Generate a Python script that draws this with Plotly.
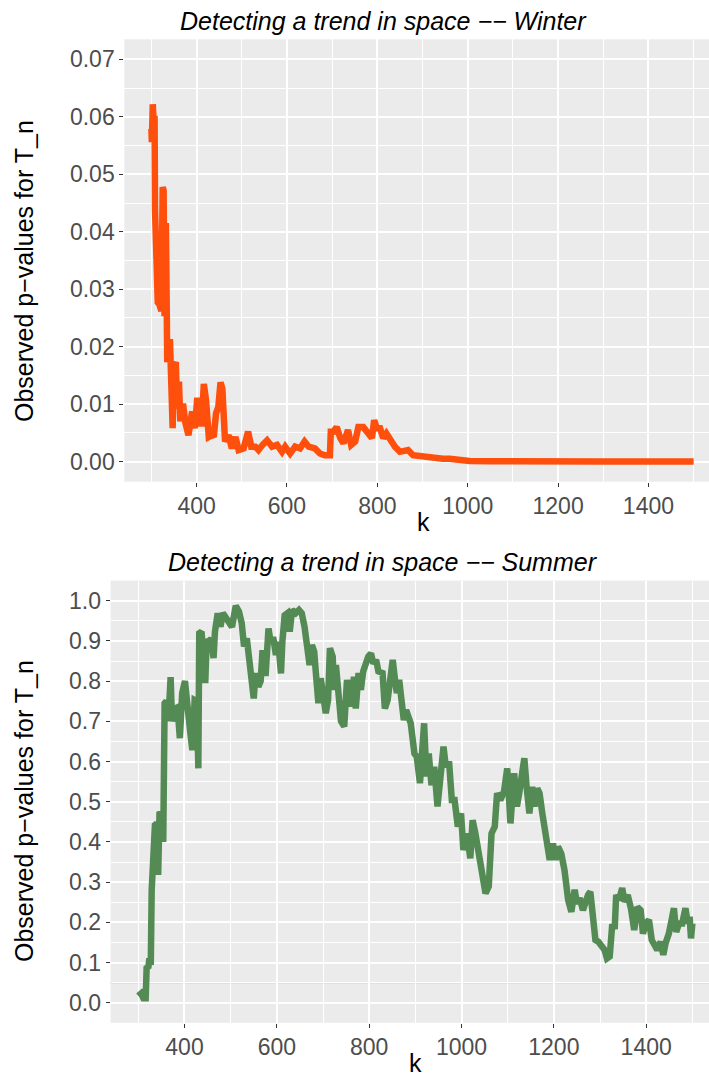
import plotly.graph_objects as go

# ---- data: observed p-values of T_n against k ----
winter_k = [300, 301, 303, 305, 307, 308, 311, 314, 318, 322, 325, 327, 329, 332, 334, 335,
            341, 345, 347, 350, 354, 357, 361, 364, 370, 375, 382, 390, 396, 401, 406, 411,
            416, 421, 427, 434, 438, 443, 448, 453, 457, 463, 471, 478, 486, 493, 504, 514,
            521, 530, 537, 547, 556, 567, 578, 589, 596, 607, 618, 629, 639, 648, 662, 673,
            684, 695, 697, 703, 710, 718, 725, 735, 742, 751, 758, 769, 780, 788, 793, 799,
            806, 813, 820, 828, 839, 850, 860, 868, 879, 890, 901, 915, 931, 945, 960, 982,
            1004, 1050, 1100, 1200, 1300, 1400, 1500]
winter_p = [0.0579, 0.0556, 0.0622, 0.0590, 0.0602, 0.0438, 0.0323, 0.0277, 0.0273, 0.0262,
            0.0478, 0.0472, 0.0253, 0.0415, 0.0260, 0.0173, 0.0213, 0.0061, 0.0058, 0.0167,
            0.0173, 0.0092, 0.0139, 0.0070, 0.0101, 0.0068, 0.0046, 0.0087, 0.0058, 0.0106,
            0.0106, 0.0061, 0.0135, 0.0106, 0.0043, 0.0046, 0.0043, 0.0084, 0.0095, 0.0138,
            0.0127, 0.0035, 0.0046, 0.0023, 0.0043, 0.0020, 0.0023, 0.0052, 0.0026, 0.0026,
            0.0020, 0.0030, 0.0037, 0.0026, 0.0029, 0.0017, 0.0026, 0.0014, 0.0026, 0.0023,
            0.0035, 0.0026, 0.0023, 0.0014, 0.0011, 0.0011, 0.0052, 0.0052, 0.0060, 0.0041,
            0.0032, 0.0055, 0.0029, 0.0035, 0.0060, 0.0060, 0.0049, 0.0041, 0.0072, 0.0058,
            0.0058, 0.0041, 0.0049, 0.0037, 0.0026, 0.0017, 0.0018, 0.0020, 0.0011, 0.0010,
            0.0008, 0.0006, 0.0005, 0.0005, 0.0005, 0.0003, 0.0001, 0.00005, 0.0, 0.0, 0.0,
            0.0, 0.0]

summer_k = [300, 306, 311, 316, 318, 322, 324, 327, 329, 333, 336, 340, 343, 346, 350, 354,
            357, 361, 365, 370, 373, 379, 385, 390, 395, 401, 406, 412, 417, 422, 427, 430,
            432, 437, 445, 448, 453, 458, 463, 466, 472, 478, 483, 489, 496, 503, 511, 518,
            524, 529, 535, 540, 546, 550, 554, 560, 565, 569, 573, 576, 582, 587, 592, 598,
            603, 609, 612, 617, 623, 628, 633, 641, 648, 654, 660, 666, 671, 676, 681, 684,
            690, 695, 700, 706, 711, 715, 721, 724, 728, 733, 739, 746, 752, 757, 762, 767,
            771, 777, 782, 787, 793, 798, 804, 809, 815, 820, 829, 834, 840, 845, 851, 856,
            860, 865, 871, 875, 880, 886, 890, 898, 903, 910, 915, 919, 924, 929, 935, 941,
            948, 955, 961, 966, 973, 979, 985, 992, 999, 1004, 1012, 1019, 1024, 1030, 1037,
            1044, 1052, 1059, 1065, 1072, 1077, 1084, 1092, 1099, 1103, 1106, 1114, 1120,
            1125, 1131, 1136, 1141, 1147, 1153, 1158, 1164, 1169, 1175, 1180, 1185, 1191,
            1198, 1204, 1209, 1216, 1223, 1231, 1238, 1245, 1250, 1256, 1263, 1269, 1274,
            1279, 1285, 1290, 1296, 1303, 1310, 1315, 1321, 1326, 1332, 1335, 1341, 1348,
            1353, 1360, 1367, 1374, 1381, 1388, 1393, 1399, 1406, 1412, 1417, 1424, 1431,
            1437, 1442, 1449, 1455, 1460, 1465, 1471, 1478, 1485, 1490, 1494, 1497, 1500]
summer_p = [0.017, 0.023, 0.011, 0.011, 0.086, 0.090, 0.110, 0.094, 0.280, 0.372, 0.442,
            0.446, 0.318, 0.475, 0.470, 0.400, 0.745, 0.750, 0.700, 0.810, 0.700, 0.732,
            0.735, 0.658, 0.770, 0.800, 0.720, 0.678, 0.628, 0.753, 0.750, 0.583, 0.919,
            0.923, 0.795, 0.898, 0.900, 0.905, 0.857, 0.923, 0.969, 0.935, 0.969, 0.957,
            0.948, 0.935, 0.987, 0.973, 0.944, 0.886, 0.906, 0.852, 0.811, 0.757, 0.820,
            0.786, 0.800, 0.877, 0.820, 0.820, 0.931, 0.894, 0.910, 0.865, 0.898, 0.819,
            0.898, 0.964, 0.969, 0.923, 0.977, 0.969, 0.977, 0.969, 0.935, 0.886, 0.840,
            0.890, 0.873, 0.828, 0.745, 0.807, 0.770, 0.720, 0.753, 0.882, 0.861, 0.778,
            0.840, 0.780, 0.700, 0.687, 0.803, 0.766, 0.737, 0.811, 0.732, 0.820, 0.778,
            0.824, 0.848, 0.861, 0.869, 0.844, 0.853, 0.824, 0.820, 0.732, 0.753, 0.803,
            0.853, 0.803, 0.770, 0.803, 0.753, 0.703, 0.728, 0.703, 0.695, 0.620, 0.612,
            0.546, 0.637, 0.695, 0.563, 0.620, 0.541, 0.587, 0.488, 0.579, 0.637, 0.587,
            0.600, 0.504, 0.504, 0.438, 0.471, 0.380, 0.421, 0.359, 0.454, 0.421, 0.380,
            0.330, 0.272, 0.289, 0.421, 0.438, 0.521, 0.504, 0.525, 0.583, 0.510, 0.446,
            0.571, 0.488, 0.521, 0.562, 0.608, 0.537, 0.471, 0.537, 0.488, 0.533, 0.521,
            0.471, 0.438, 0.405, 0.355, 0.396, 0.355, 0.388, 0.371, 0.330, 0.255, 0.226,
            0.281, 0.247, 0.260, 0.230, 0.255, 0.268, 0.276, 0.206, 0.156, 0.152, 0.139,
            0.131, 0.110, 0.115, 0.189, 0.190, 0.268, 0.255, 0.285, 0.251, 0.268, 0.234,
            0.181, 0.238, 0.230, 0.172, 0.197, 0.206, 0.156, 0.143, 0.131, 0.152, 0.119,
            0.148, 0.172, 0.206, 0.235, 0.176, 0.197, 0.197, 0.235, 0.197, 0.214, 0.160,
            0.197]

THRESHOLD = 0.05

winter_ticks = [0.00, 0.01, 0.02, 0.03, 0.04, 0.05, 0.06, 0.07]
winter_tick_text = ["0.00", "0.01", "0.02", "0.03", "0.04", "0.05", "0.06", "0.07"]
summer_ticks = [0.0, 0.1, 0.2, 0.3, 0.4, 0.5, 0.6, 0.7, 0.8, 0.9, 1.0]
summer_tick_text = ["0.0", "0.1", "0.2", "0.3", "0.4", "0.5", "0.6", "0.7", "0.8", "0.9", "1.0"]
k_ticks = [400, 600, 800, 1000, 1200, 1400]
k_minor = [300, 500, 700, 900, 1100, 1300, 1500]

TITLE_WINTER = "Detecting a trend in space \u2212\u2212 Winter"
TITLE_SUMMER = "Detecting a trend in space \u2212\u2212 Summer"
Y_TITLE = "Observed p\u2212values for T_n"
X_TITLE = "k"

# ---- styling ----
W, H = 709, 1076
FONT = "Liberation Sans, Arial, Helvetica, sans-serif"
PANEL_BG = "#EBEBEB"
WINTER_COLOR = "#FF4F0C"
SUMMER_COLOR = "#548B54"
LINE_W = 6.5


def fx(px):
    return px / W


def fy(px):
    return 1 - px / H


fig = go.Figure()
fig.add_trace(go.Scatter(x=winter_k, y=winter_p, mode="lines",
                         line=dict(color=WINTER_COLOR, width=LINE_W),
                         xaxis="x", yaxis="y", showlegend=False))
fig.add_trace(go.Scatter(x=summer_k, y=summer_p, mode="lines",
                         line=dict(color=SUMMER_COLOR, width=LINE_W),
                         xaxis="x2", yaxis="y2", showlegend=False))

axis_common = dict(
    showgrid=True, gridcolor="white", gridwidth=1.6,
    zeroline=False, showline=False,
    ticks="outside", ticklen=4, tickwidth=1, tickcolor="#333333",
    tickfont=dict(family=FONT, size=23, color="#4D4D4D"),
    fixedrange=True,
)
minor_common = dict(showgrid=True, gridcolor="white", gridwidth=0.8, ticks="")

fig.update_layout(
    width=W, height=H,
    margin=dict(l=0, r=0, t=0, b=0),
    paper_bgcolor="white",
    plot_bgcolor=PANEL_BG,
    showlegend=False,
    xaxis=dict(domain=[fx(124.3), 1.0], range=[240, 1534], anchor="y",
               tickmode="array", tickvals=k_ticks,
               minor=dict(tickvals=k_minor, **minor_common), **axis_common),
    yaxis=dict(domain=[fy(481.7), fy(39.3)], range=[-0.0035, 0.0735], anchor="x",
               tickmode="array", tickvals=winter_ticks, ticktext=winter_tick_text,
               minor=dict(tickvals=[0.005, 0.015, 0.025, 0.035, 0.045, 0.055, 0.065],
                          **minor_common), **axis_common),
    xaxis2=dict(domain=[fx(110.6), 1.0], range=[240, 1536], anchor="y2",
                tickmode="array", tickvals=k_ticks,
                minor=dict(tickvals=k_minor, **minor_common), **axis_common),
    yaxis2=dict(domain=[fy(1022.8), fy(580.6)], range=[-0.05, 1.05], anchor="x2",
                tickmode="array", tickvals=summer_ticks, ticktext=summer_tick_text,
                minor=dict(tickvals=[0.05, 0.15, 0.25, 0.35, 0.45, 0.55, 0.65, 0.75,
                                     0.85, 0.95], **minor_common), **axis_common),
)

# reference line at the 5% level in both panels
for xref, yref in [("x domain", "y"), ("x2 domain", "y2")]:
    fig.add_shape(type="line", xref=xref, yref=yref, x0=0, x1=1,
                  y0=THRESHOLD, y1=THRESHOLD, layer="below",
                  line=dict(color="#BEBEBE", width=1.2))

# titles
for text, y in [(TITLE_WINTER, 21), (TITLE_SUMMER, 562)]:
    fig.add_annotation(text="<i>" + text + "</i>", x=fx(383), y=fy(y),
                       xref="paper", yref="paper", showarrow=False,
                       xanchor="center", yanchor="middle",
                       font=dict(family=FONT, size=25, color="black"))

for x, y in [(424, 522), (415, 1063)]:
    fig.add_annotation(text=X_TITLE, x=fx(x), y=fy(y), xref="paper", yref="paper",
                       showarrow=False, xanchor="center", yanchor="middle",
                       font=dict(family=FONT, size=25, color="black"))
for y in [271, 811]:
    fig.add_annotation(text=Y_TITLE, x=fx(24), y=fy(y), xref="paper", yref="paper",
                       showarrow=False, xanchor="center", yanchor="middle", textangle=-90,
                       font=dict(family=FONT, size=25, color="black"))

fig.write_html("out.html")
